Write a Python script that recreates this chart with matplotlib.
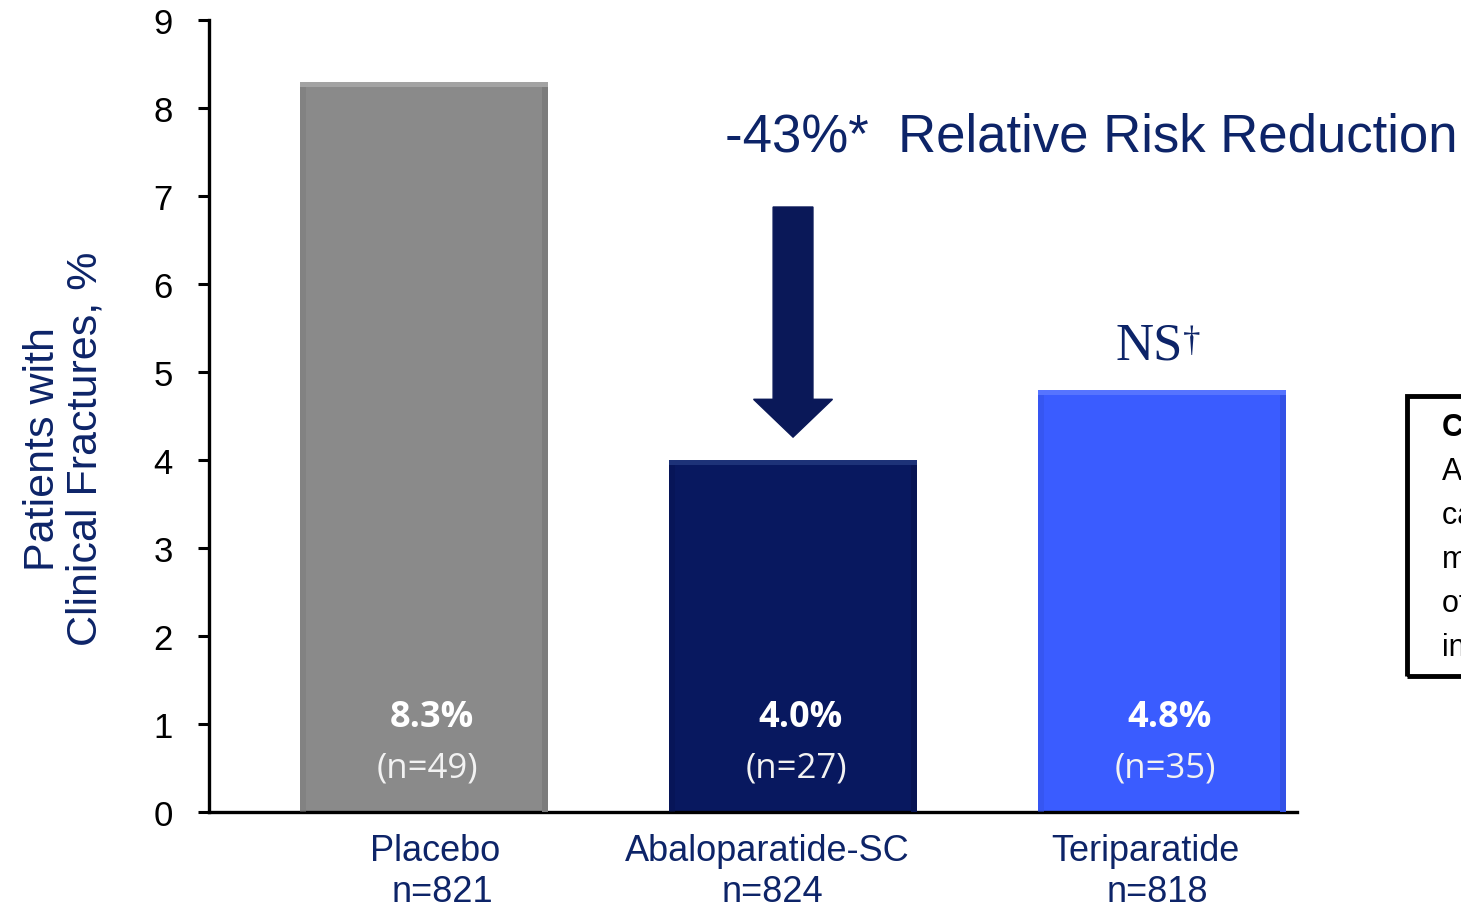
import matplotlib
matplotlib.use("Agg")
import matplotlib.pyplot as plt
from matplotlib.patches import FancyArrow, Rectangle
import matplotlib.transforms as mtransforms

# Data
groups = ["Placebo", "Abaloparatide-SC", "Teriparatide"]
group_n = ["n=821", "n=824", "n=818"]
pct_fracture = [8.3, 4.0, 4.8]
events = [49, 27, 35]
yticks = [0, 1, 2, 3, 4, 5, 6, 7, 8, 9]

rrr_text = "-43%*  Relative Risk Reduction"
ns_text = "NS"
ns_mark = "\u2020"

bar_colors = ["#8a8a8a", "#08185f", "#3a5cff"]
bar_light = ["#a3a3a3", "#1d3278", "#5674ff"]
bar_dark = ["#7c7c7c", "#071453", "#3352e6"]
navy = "#0d2468"

plt.rcParams["font.family"] = ["Liberation Sans", "DejaVu Sans"]

fig = plt.figure(figsize=(14.61, 9.12), dpi=100)
ax = fig.add_axes([209 / 1461, 99 / 912, 1088 / 1461, 792 / 912])

x = list(range(len(groups)))
width = 0.672
ax.bar(x, pct_fracture, width=width, color=bar_colors, edgecolor="none", zorder=2)

# bevel highlights along the top and sides of each bar
for xi, v, cl, cd in zip(x, pct_fracture, bar_light, bar_dark):
    ax.bar(xi, 0.06, bottom=v - 0.06, width=width, color=cl, edgecolor="none", zorder=3)
    ax.bar(xi + width / 2 - 0.008, v - 0.06, width=0.016, color=cd, edgecolor="none", zorder=3)
    ax.bar(xi - width / 2 + 0.008, v - 0.06, width=0.016, color=cd, edgecolor="none",
           zorder=3, alpha=0.5)

ax.set_xlim(-0.583, 2.366)
ax.set_ylim(0, 9)
ax.set_yticks(yticks)
ax.set_yticklabels([str(t) for t in yticks], fontsize=25)
ax.set_xticks([])

for s in ["top", "right"]:
    ax.spines[s].set_visible(False)
ax.spines["left"].set_linewidth(2.4)
ax.spines["bottom"].set_linewidth(2.4)
ax.tick_params(axis="y", direction="out", length=8, width=2.2, pad=18)

ax.set_ylabel("Patients with\nClinical Fractures, %", fontsize=31, color=navy,
              linespacing=1.08)
ax.yaxis.set_label_coords(-0.095, 0.46)

# values inside bars
for xi, v, n in zip(x, pct_fracture, events):
    ax.text(xi + 0.02, 1.08, f"{v:.1f}%", ha="center", va="center", fontsize=26,
            fontweight="bold", color="white", family="Open Sans", zorder=4)
    ax.text(xi + 0.01, 0.5, f"(n={n})", ha="center", va="center", fontsize=25,
            color="#f2f2f2", family="Open Sans", zorder=4)

# category labels below the axis
trans = mtransforms.blended_transform_factory(ax.transData, fig.transFigure)
name_dx = [0.03, -0.07, -0.045]
n_dx = [0.05, -0.057, -0.013]
for xi, g, n, d1, d2 in zip(x, groups, group_n, name_dx, n_dx):
    ax.text(xi + d1, 1 - 852 / 912, g, transform=trans, ha="center", va="center",
            fontsize=26, color=navy)
    ax.text(xi + d2, 1 - 893 / 912, n, transform=trans, ha="center", va="center",
            fontsize=26, color=navy)

# relative risk reduction annotation
ax.text(725 / 1461, 1 - 137 / 912, rrr_text, transform=fig.transFigure,
        ha="left", va="center", fontsize=38, color=navy)
arrow_top = 6.875
ax.add_patch(FancyArrow(1, arrow_top, 0, pct_fracture[1] + 0.26 - arrow_top,
                        width=0.108, head_width=0.214, head_length=0.43,
                        length_includes_head=True, color="#0a1858", zorder=5))

ns = ax.text(2 - 0.035, pct_fracture[2] + 0.5, ns_text, ha="center", va="center",
             fontsize=38, color=navy, family="Liberation Serif")
ax.annotate(ns_mark, xy=(1.0, 0.93), xycoords=ns, ha="left", va="top",
            fontsize=25, color=navy, family="Liberation Serif")

# side panel on the right edge
fig.patches.append(Rectangle((1407 / 1461, 1 - 677 / 912), 200 / 1461, 280 / 912,
                             transform=fig.transFigure, fill=False,
                             edgecolor="black", linewidth=3.5))
side_lines = ["Clinical fractures", "All fractures", "captured by", "medical records",
              "other than", "including"]
for i, line in enumerate(side_lines):
    fig.text(1442 / 1461, 1 - (428 + 44 * i) / 912, line, ha="left", va="center",
             fontsize=22, color="black", fontweight="bold" if i == 0 else "normal")

fig.savefig("out.png", dpi=100, facecolor="white")
